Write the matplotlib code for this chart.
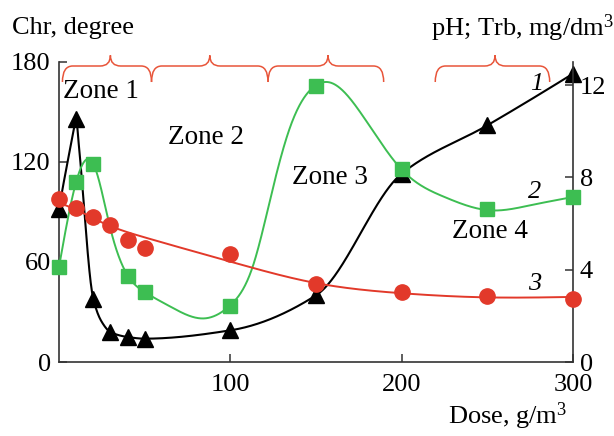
import numpy as np
import matplotlib
matplotlib.use('Agg')
import matplotlib.pyplot as plt
from matplotlib.path import Path
from matplotlib.patches import PathPatch

# measured points
dose_chr = [0, 10, 20, 30, 40, 50, 100, 150, 200, 250, 300]
chr_vals = [92, 146, 38, 18, 15, 14, 19, 40, 113, 142, 173]

dose_trb = [0, 10, 20, 40, 50, 100, 150, 200, 250, 300]
trb_vals = [4.13, 7.81, 8.57, 3.73, 3.05, 2.43, 11.96, 8.35, 6.62, 7.14]

dose_ph = [0, 10, 20, 30, 40, 50, 100, 150, 200, 250, 300]
ph_vals = [7.05, 6.66, 6.30, 5.94, 5.29, 4.93, 4.68, 3.38, 3.05, 2.87, 2.73]

# drawn curves (knots)
chr_curve_x = [0, 8.5, 10, 11.5, 20, 25, 30, 40, 50, 100, 150, 200, 250, 300]
chr_curve_y = [92, 138.5, 146, 131, 38, 24, 18, 15, 14, 19, 40, 113, 142, 173]

trb_curve_x = [0, 10, 20, 30, 40, 50, 65, 85, 100, 113, 125, 135, 150, 157,
               175, 200, 225, 252, 275, 300]
trb_curve_y = [4.12, 7.80, 8.59, 5.78, 3.76, 3.03, 2.40, 1.89, 2.46, 4.12,
               7.58, 10.2, 11.99, 12.13, 10.91, 8.34, 7.15, 6.57, 6.79, 7.15]

ph_curve_x = [0, 10, 25, 50, 100, 150, 200, 250, 300]
ph_curve_y = [6.9, 6.6, 6.05, 5.4, 4.35, 3.42, 2.98, 2.8, 2.82]

# zones: start, end, tip of brace
zone_start = [2, 54, 122, 219.6]
zone_end = [54, 122, 189.5, 286.4]
zone_tip = [30, 88, 157, 254.5]
zone_names = ['Zone 1', 'Zone 2', 'Zone 3', 'Zone 4']
zone_text_x = [24.4, 86, 158.4, 251.6]
zone_text_y = [162.6, 135, 110.4, 78]


def pchip(x, y, xs):
    x = np.asarray(x, float)
    y = np.asarray(y, float)
    h = np.diff(x)
    d = np.diff(y) / h
    m = np.zeros_like(y)
    for k in range(1, len(x) - 1):
        if d[k - 1] * d[k] > 0:
            w1 = 2 * h[k] + h[k - 1]
            w2 = h[k] + 2 * h[k - 1]
            m[k] = (w1 + w2) / (w1 / d[k - 1] + w2 / d[k])

    def end(h0, h1, d0, d1):
        mm = ((2 * h0 + h1) * d0 - h0 * d1) / (h0 + h1)
        if np.sign(mm) != np.sign(d0):
            mm = 0
        elif np.sign(d0) != np.sign(d1) and abs(mm) > abs(3 * d0):
            mm = 3 * d0
        return mm

    m[0] = end(h[0], h[1], d[0], d[1])
    m[-1] = end(h[-1], h[-2], d[-1], d[-2])
    idx = np.clip(np.searchsorted(x, xs) - 1, 0, len(h) - 1)
    t = (xs - x[idx]) / h[idx]
    h00 = 2 * t**3 - 3 * t**2 + 1
    h10 = t**3 - 2 * t**2 + t
    h01 = -2 * t**3 + 3 * t**2
    h11 = t**3 - t**2
    return (h00 * y[idx] + h10 * h[idx] * m[idx] +
            h01 * y[idx + 1] + h11 * h[idx] * m[idx + 1])


def spline(x, y, xs):
    # natural cubic spline
    x = np.asarray(x, float)
    y = np.asarray(y, float)
    n = len(x)
    h = np.diff(x)
    d = np.diff(y) / h
    A = np.zeros((n, n))
    b = np.zeros(n)
    A[0, 0] = 1
    A[-1, -1] = 1
    for i in range(1, n - 1):
        A[i, i - 1] = h[i - 1]
        A[i, i] = 2 * (h[i - 1] + h[i])
        A[i, i + 1] = h[i]
        b[i] = 3 * (d[i] - d[i - 1])
    c = np.linalg.solve(A, b)
    idx = np.clip(np.searchsorted(x, xs) - 1, 0, n - 2)
    t = xs - x[idx]
    bb = d[idx] - h[idx] * (2 * c[idx] + c[idx + 1]) / 3
    dd = (c[idx + 1] - c[idx]) / (3 * h[idx])
    return y[idx] + bb * t + c[idx] * t**2 + dd * t**3


def brace(ax, x0, x1, xt, ybase=177.6, ytip=184, yend=168, r=6, color='#E8553A'):
    verts = [(x0, yend), (x0, ybase), (x0 + r, ybase),
             (xt - r, ybase), (xt, ybase), (xt, ytip),
             (xt, ybase), (xt + r, ybase),
             (x1 - r, ybase), (x1, ybase), (x1, yend)]
    codes = [Path.MOVETO, Path.CURVE3, Path.CURVE3,
             Path.LINETO, Path.CURVE3, Path.CURVE3,
             Path.CURVE3, Path.CURVE3,
             Path.LINETO, Path.CURVE3, Path.CURVE3]
    p = PathPatch(Path(verts, codes), fill=False, edgecolor=color, lw=1.1,
                  clip_on=False)
    ax.add_patch(p)


plt.rcParams['font.family'] = ['Liberation Serif', 'DejaVu Serif']
plt.rcParams['font.size'] = 19
plt.rcParams['mathtext.fontset'] = 'custom'
plt.rcParams['mathtext.rm'] = 'Liberation Serif'
plt.rcParams['mathtext.it'] = 'Liberation Serif:italic'

black = '#000000'
green = '#3DBE52'
red = '#E2392A'
spine_c = '#333333'

fig = plt.figure(figsize=(6.14, 4.36), dpi=100)
ax = fig.add_axes([59 / 614, 74 / 436, 514 / 614, 300 / 436])
ax2 = ax.twinx()

ax.set_xlim(0, 300)
ax.set_ylim(0, 180)
ax2.set_ylim(0, 13)

xs = np.linspace(0, 300, 1200)
ax.plot(xs, pchip(chr_curve_x, chr_curve_y, xs), color=black, lw=1.5, clip_on=False)
ax.plot(dose_chr, chr_vals, '^', color=black, ms=11, clip_on=False, zorder=5)

ax2.plot(xs, spline(trb_curve_x, trb_curve_y, xs), color=green, lw=1.4, clip_on=False)
ax2.plot(dose_trb, trb_vals, 's', color=green, ms=10.5, clip_on=False, zorder=5)

ax2.plot(xs, spline(ph_curve_x, ph_curve_y, xs), color=red, lw=1.4, clip_on=False)
ax2.plot(dose_ph, ph_vals, 'o', color=red, ms=11, clip_on=False, zorder=6)

for a in (ax, ax2):
    a.spines['top'].set_visible(False)
    for s in a.spines.values():
        s.set_color(spine_c)
        s.set_linewidth(1.2)
ax.spines['right'].set_visible(False)
ax2.spines['left'].set_visible(False)
ax2.spines['bottom'].set_visible(False)

ax.set_xticks([100, 200, 300])
ax.set_yticks([0, 60, 120, 180])
ax2.set_yticks([0, 4, 8, 12])
ax.tick_params(axis='both', direction='in', length=6, width=1.1, color=spine_c)
ax.tick_params(axis='x', pad=8.5)
ax.tick_params(axis='y', pad=6)
ax2.tick_params(axis='y', direction='in', length=6, width=1.1, color=spine_c, pad=5)

for x0, x1, xt in zip(zone_start, zone_end, zone_tip):
    brace(ax, x0, x1, xt)

for name, tx, ty in zip(zone_names, zone_text_x, zone_text_y):
    ax.text(tx, ty, name, ha='center', va='center', fontsize=19.5)

ax.text(278.6, 167, '1', ha='center', va='center', style='italic', fontsize=19)
ax.text(277.7, 102, '2', ha='center', va='center', style='italic', fontsize=19)
ax.text(277.7, 46.8, '3', ha='center', va='center', style='italic', fontsize=19)

fig.text(12 / 614, 0.936, 'Chr, degree', ha='left', va='center')
fig.text(0.999, 0.936, 'pH; Trb, mg/dm$^3$', ha='right', va='center')
fig.text(0.924, 1 - 424 / 436, 'Dose, g/m$^3$', ha='right', va='baseline')

fig.savefig('out.png', dpi=100)
